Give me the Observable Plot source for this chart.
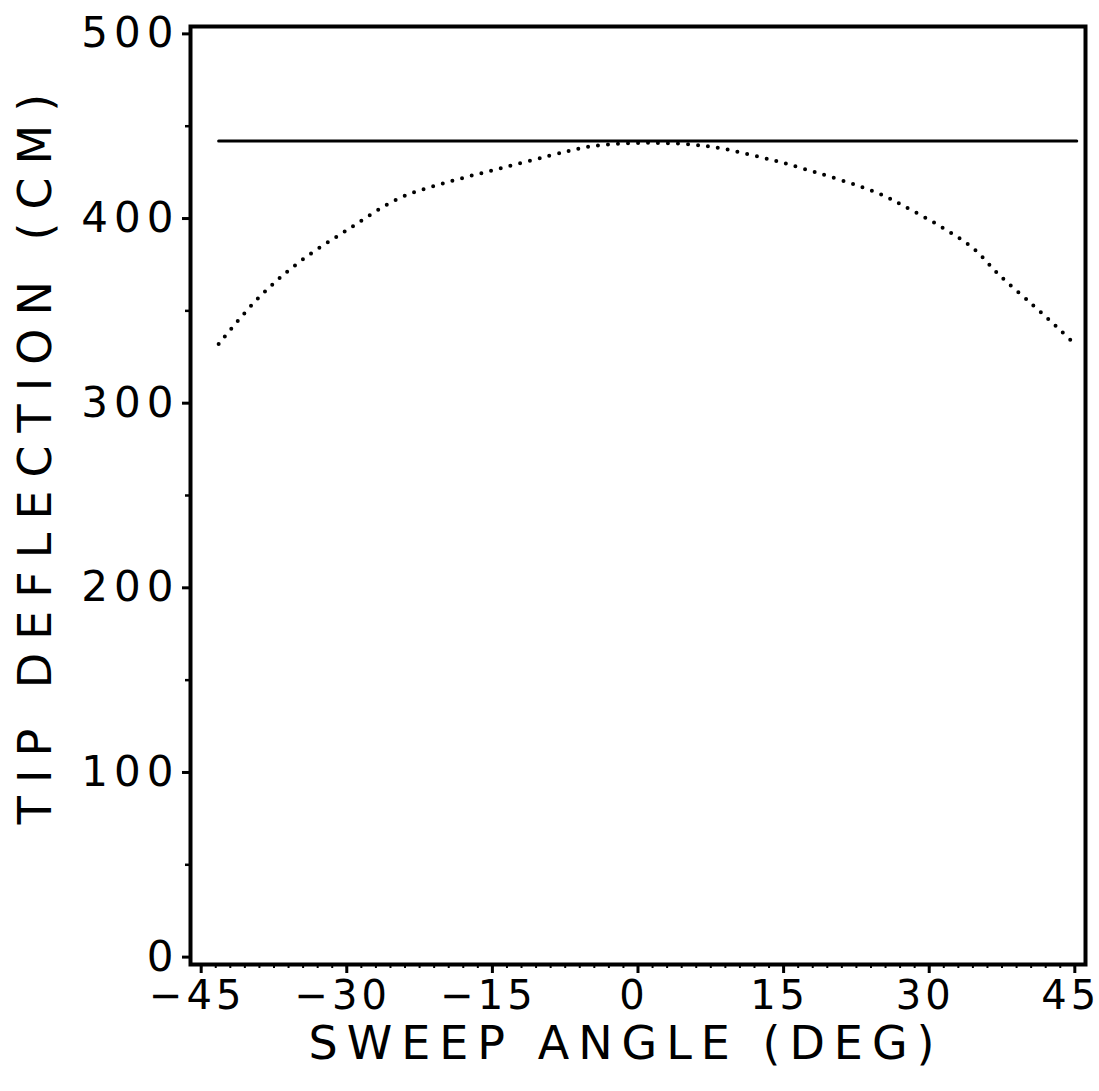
<!DOCTYPE html>
<html>
<head>
<meta charset="utf-8">
<script src="https://cdn.jsdelivr.net/npm/d3@7"></script>
<script src="https://cdn.jsdelivr.net/npm/@observablehq/plot@0.6"></script>
<style>
  html, body { margin: 0; padding: 0; background: #fff; }
  svg { display: block; }
  .lbl text { letter-spacing: 6px; }
  .xlbl text { letter-spacing: 4px; }
  .ttl text { letter-spacing: 9px; }
  .ttly text { letter-spacing: 13px; }
</style>
</head>
<body>
<div id="chart"></div>
<script>
const xTicks = [-45, -30, -15, 0, 15, 30, 45];
const yTicks = [0, 100, 200, 300, 400, 500];
const yMinorTicks = [50, 150, 250, 350, 450];
const xMinorTicks = [-45, -43.5, -42, -40.5, -39, -37.5, -36, -34.5, -33, -31.5, -30, -28.5, -27, -25.5, -24, -22.5, -21, -19.5, -18, -16.5, -15, -13.5, -12, -10.5, -9, -7.5, -6, -4.5, -3, -1.5, 0, 1.5, 3, 4.5, 6, 7.5, 9, 10.5, 12, 13.5, 15, 16.5, 18, 19.5, 21, 22.5, 24, 25.5, 27, 28.5, 30, 31.5, 33, 34.5, 36, 37.5, 39, 40.5, 42, 43.5, 45];

// solid curve
const solidAngle = [-43.2, 45.2];
const solidDeflection = [442, 442];

// dotted curve
const dottedAngle = [-43.2, -39.1, -35.0, -29.9, -24.6, -19.4, -14.3, -9.1, -4.9, 1.2, 7.4, 12.8, 16.4, 24.6, 28.0, 31.4, 34.5, 37.3, 40.7, 43.2, 45.0];
const dottedDeflection = [332, 357, 376, 394, 411, 420, 427, 434, 439, 441, 439, 433, 428, 414, 405, 395, 384, 369, 353, 341, 332];

const xTitle = "SWEEP ANGLE (DEG)";
const yTitle = "TIP DEFLECTION (CM)";

const solid = solidAngle.map((a, i) => ({angle: a, deflection: solidDeflection[i]}));
const dotted = dottedAngle.map((a, i) => ({angle: a, deflection: dottedDeflection[i]}));

const fmt = d => d < 0 ? "\u2212" + (-d) : String(d);

const chart = Plot.plot({
  width: 1099,
  height: 1091,
  marginLeft: 190,
  marginRight: 14,
  marginTop: 26,
  marginBottom: 127,
  style: {fontFamily: "DejaVu Sans", background: "#fff", color: "#000"},
  x: {domain: [-46.1, 46.1], axis: null},
  y: {domain: [-4, 504], axis: null},
  marks: [
    Plot.axisY({ticks: yMinorTicks, tickSize: 5, text: null, label: null, strokeWidth: 2.5}),
    Plot.axisY({ticks: yTicks, tickSize: 8, tickPadding: 3, tickFormat: fmt, label: null, fontSize: 42, strokeWidth: 3, className: "lbl"}),
    Plot.axisX({ticks: xMinorTicks, tickSize: 4, text: null, label: null, strokeWidth: 2}),
    Plot.axisX({ticks: xTicks, tickSize: 9, text: null, label: null, strokeWidth: 3}),
    Plot.axisX({ticks: xTicks, tickSize: 0, tickPadding: 16, tickFormat: fmt, label: null, fontSize: 40, dx: -4, className: "xlbl"}),
    Plot.frame({stroke: "#000", strokeWidth: 4}),
    Plot.line(solid, {x: "angle", y: "deflection", stroke: "#000", strokeWidth: 3}),
    Plot.line(dotted, {x: "angle", y: "deflection", curve: "catmull-rom", stroke: "#000", strokeWidth: 4, strokeLinecap: "round", strokeDasharray: "0 10"}),
    Plot.text([xTitle], {frameAnchor: "bottom", dx: -12, dy: 94, fontSize: 46, textAnchor: "middle", className: "ttl", text: d => d}),
    Plot.text([yTitle], {frameAnchor: "left", dx: -154, dy: -43, rotate: -90, fontSize: 46, textAnchor: "middle", className: "ttly", text: d => d})
  ]
});
document.getElementById("chart").appendChild(chart);
</script>
</body>
</html>
